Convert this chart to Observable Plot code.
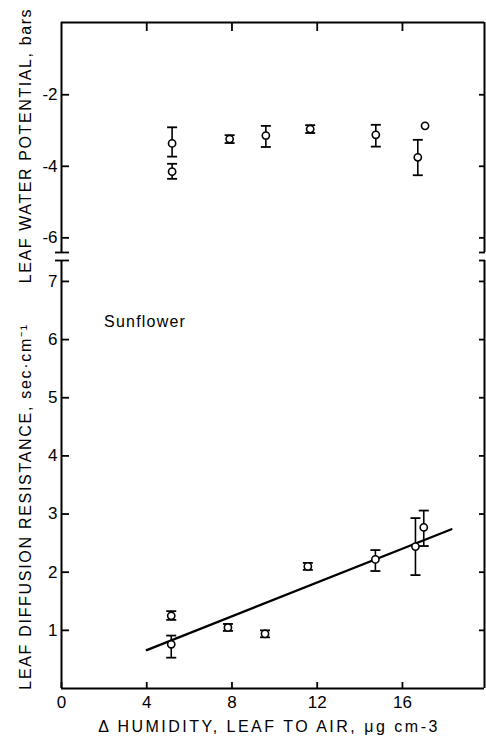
<!DOCTYPE html>
<html><head><meta charset="utf-8">
<script src="https://cdn.jsdelivr.net/npm/d3@7"></script>
<script src="https://cdn.jsdelivr.net/npm/@observablehq/plot@0.6"></script>
<style>
body{margin:0;background:#fff;}
#chart{position:relative;width:486px;height:736px;}
#chart svg{position:absolute;left:0;overflow:visible;background:transparent;}
</style></head><body><div id="chart"></div>
<script>
// ---- data ----
// Top panel: leaf water potential (bars)
const wpX  = [5.19, 5.19, 7.89, 9.59, 11.67, 14.75, 16.72, 17.06];
const wpY  = [-3.36, -4.15, -3.24, -3.14, -2.96, -3.12, -3.75, -2.87];
const wpLo = [-3.73, -4.35, -3.35, -3.46, -3.07, -3.45, -4.25, null];
const wpHi = [-2.91, -3.93, -3.13, -2.87, -2.85, -2.84, -3.26, null];
// Bottom panel: leaf diffusion resistance (sec/cm)
const rX  = [5.15, 5.15, 7.81, 9.55, 11.56, 14.73, 16.61, 17.0];
const rY  = [1.25, 0.76, 1.05, 0.94, 2.10, 2.22, 2.44, 2.77];
const rLo = [1.18, 0.53, 0.99, 0.88, 2.04, 2.02, 1.95, 2.45];
const rHi = [1.33, 0.91, 1.11, 1.00, 2.16, 2.38, 2.93, 3.06];
// fitted line endpoints
const fitX = [4.0, 18.3];
const fitY = [0.66, 2.74];
// scales / ticks
const xDomain = [0, 19.85];
const wpDomain = [-6.41, 0.02];
const rDomain = [0, 7.36];
const xTickValues = [0, 4, 8, 12, 16];
const xTopTicks = [4, 8, 12, 16];
const wpTicks = [-2, -4, -6];
const rTicks = [1, 2, 3, 4, 5, 6, 7];
// texts
const xTitle = "Δ HUMIDITY, LEAF TO AIR, μg cm-3";
const wpTitle = "LEAF WATER POTENTIAL, bars";
const rTitle = "LEAF DIFFUSION RESISTANCE, sec·cm⁻¹";
const annText = ["Sunflower"];
const annX = [2.0];
const annY = [6.3];

// ---- tables ----
const wp = wpX.map((x, i) => ({x, y: wpY[i], lo: wpLo[i], hi: wpHi[i]}));
const rs = rX.map((x, i) => ({x, y: rY[i], lo: rLo[i], hi: rHi[i]}));
const wpErr = wp.filter(d => d.lo != null);
const fit = fitX.map((x, i) => ({x, y: fitY[i]}));
const ann = annText.map((t, i) => ({t, x: annX[i], y: annY[i]}));

const cap = {draw(ctx, size) { const w = Math.sqrt(size / Math.PI); ctx.moveTo(-w, 0); ctx.lineTo(w, 0); }};
const font = "'Liberation Sans', Arial, sans-serif";
const SW = 1.8;
const TF = 17;
const blank = () => "";

function points(data, errData) {
  return [
    Plot.ruleX(errData, {x: "x", y1: "lo", y2: "hi", stroke: "black", strokeWidth: 1.6}),
    Plot.dot(errData, {x: "x", y: "lo", symbol: cap, r: 5, stroke: "black", fill: "none", strokeWidth: 1.8}),
    Plot.dot(errData, {x: "x", y: "hi", symbol: cap, r: 5, stroke: "black", fill: "none", strokeWidth: 1.8}),
    Plot.dot(data, {x: "x", y: "y", r: 3.6, stroke: "black", fill: "white", strokeWidth: 1.6})
  ];
}

const topPlot = Plot.plot({
  width: 486, height: 260,
  marginTop: 22, marginBottom: 8, marginLeft: 61, marginRight: 2,
  style: {fontFamily: font, fontSize: "16px", color: "black", background: "transparent"},
  x: {domain: xDomain},
  y: {domain: wpDomain},
  marks: [
    Plot.ruleX([xDomain[0]], {strokeWidth: 2}),
    Plot.ruleX([xDomain[1]], {strokeWidth: 2}),
    Plot.ruleY([wpDomain[1]], {strokeWidth: 2}),
    Plot.axisX({anchor: "top", ticks: xTopTicks, tickSize: -8, tickFormat: blank, label: null, strokeWidth: SW}),
    Plot.axisY({anchor: "left", ticks: wpTicks, tickSize: -8, tickPadding: 12, tickFormat: d => String(d), label: null, strokeWidth: SW, fontSize: TF}),
    Plot.axisY({anchor: "right", ticks: wpTicks, tickSize: -6, tickFormat: blank, label: null, strokeWidth: SW}),
    // axis break marks at the bottom of the panel
    Plot.axisY({anchor: "left", ticks: [wpDomain[0]], tickSize: 6, tickFormat: blank, label: null, strokeWidth: SW}),
    Plot.axisY({anchor: "left", ticks: [wpDomain[0]], tickSize: -8, tickFormat: blank, label: null, strokeWidth: SW}),
    Plot.axisY({anchor: "right", ticks: [wpDomain[0]], tickSize: -6, tickFormat: blank, label: null, strokeWidth: SW}),
    ...points(wp, wpErr),
    Plot.text([wpTitle], {text: d => d, frameAnchor: "left", textAnchor: "middle", rotate: -90, dx: -36, dy: 8, fontSize: 16, fill: "black"})
  ]
});

const bottomPlot = Plot.plot({
  width: 486, height: 484,
  marginTop: 8, marginBottom: 48, marginLeft: 61, marginRight: 2,
  style: {fontFamily: font, fontSize: "16px", color: "black", background: "transparent"},
  x: {domain: xDomain},
  y: {domain: rDomain},
  marks: [
    Plot.ruleX([xDomain[0]], {strokeWidth: 2}),
    Plot.ruleX([xDomain[1]], {strokeWidth: 2}),
    Plot.ruleY([rDomain[0]], {strokeWidth: 2}),
    Plot.axisX({anchor: "bottom", ticks: xTickValues, tickSize: -6, tickPadding: 13, tickFormat: d => String(d), label: null, strokeWidth: SW, fontSize: TF}),
    Plot.axisY({anchor: "left", ticks: rTicks, tickSize: -8, tickPadding: 12, tickFormat: d => String(d), label: null, strokeWidth: SW, fontSize: TF}),
    Plot.axisY({anchor: "right", ticks: rTicks, tickSize: -6, tickFormat: blank, label: null, strokeWidth: SW}),
    // axis break marks at the top of the panel
    Plot.axisY({anchor: "left", ticks: [rDomain[1]], tickSize: 6, tickFormat: blank, label: null, strokeWidth: SW}),
    Plot.axisY({anchor: "left", ticks: [rDomain[1]], tickSize: -8, tickFormat: blank, label: null, strokeWidth: SW}),
    Plot.axisY({anchor: "right", ticks: [rDomain[1]], tickSize: -6, tickFormat: blank, label: null, strokeWidth: SW}),
    Plot.line(fit, {x: "x", y: "y", stroke: "black", strokeWidth: 2.2}),
    ...points(rs, rs),
    Plot.text(ann, {x: "x", y: "y", text: "t", textAnchor: "start", fontSize: 16, fill: "black"}),
    Plot.text([rTitle], {text: d => d, frameAnchor: "left", textAnchor: "middle", rotate: -90, dx: -36, dy: 32, fontSize: 16, fill: "black"}),
    Plot.text([xTitle], {text: d => d, frameAnchor: "bottom", textAnchor: "middle", dx: -4, dy: 43, lineAnchor: "bottom", fontSize: 16, fill: "black"})
  ]
});

topPlot.style.top = "0px";
bottomPlot.style.top = "252px";
const chart = document.getElementById("chart");
chart.appendChild(topPlot);
chart.appendChild(bottomPlot);

// letter spacing of the typeset labels
const spacing = new Map([[wpTitle, "1.6px"], [rTitle, "1.7px"], [xTitle, "2.5px"], [annText[0], "1.2px"]]);
chart.querySelectorAll("text").forEach(t => {
  const s = spacing.get(t.textContent);
  if (s) t.style.letterSpacing = s;
});
</script>
</body></html>
